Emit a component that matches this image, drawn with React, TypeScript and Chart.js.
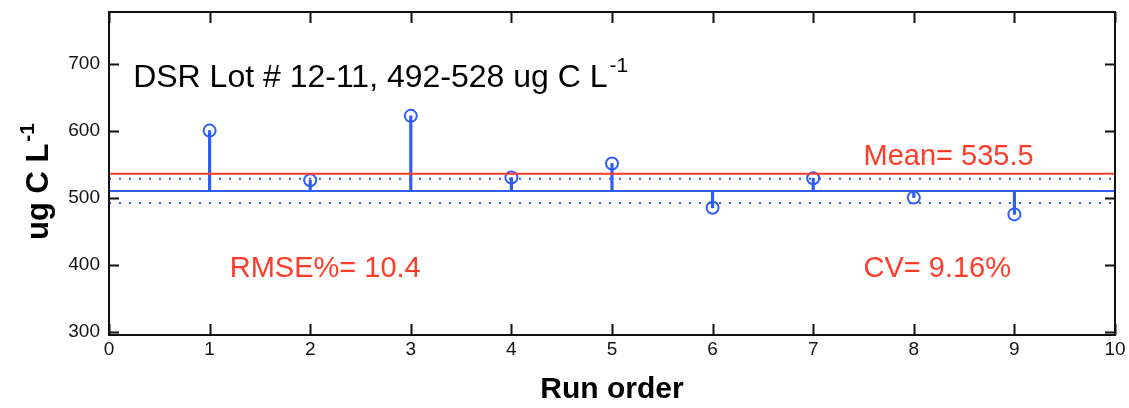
import React, { useEffect, useRef } from "react";
import { Chart, registerables } from "chart.js";

Chart.register(...registerables);

// ---- data ----
const RUN_ORDER = [1, 2, 3, 4, 5, 6, 7, 8, 9];
const CONCENTRATION = [600, 526, 622, 530, 551, 485, 529, 500, 475];
const TARGET = 510;
const LOWER_LIMIT = 492;
const UPPER_LIMIT = 528;
const MEAN = 535.5;
const X_RANGE = [0, 10];
const Y_RANGE = [295, 777];
const X_TICKS = [0, 1, 2, 3, 4, 5, 6, 7, 8, 9, 10];
const Y_TICKS = [300, 400, 500, 600, 700];

const TITLE_MAIN = "DSR Lot # 12-11, 492-528 ug C L";
const TITLE_SUP = "-1";
const Y_LABEL_MAIN = "ug C L";
const Y_LABEL_SUP = "-1";
const X_LABEL = "Run order";
const NOTE_TEXTS = ["Mean= 535.5", "RMSE%= 10.4", "CV= 9.16%"];
// text anchors in data coordinates (like MATLAB text(x, y, ...))
const NOTE_X = [7.5, 1.2, 7.5];
const NOTE_Y = [548.6, 381.6, 381.6];
const TITLE_AT = [0.24, 664.5];

const FONT = "'Liberation Sans', Arial, Helvetica, sans-serif";
const RED = "#ff3c28";
const BLUE = "#2f5cff";
const INK = "#111111";

const overlayPlugin = {
  id: "matlabOverlay",
  afterDraw(chart: any) {
    const { ctx, chartArea } = chart;
    const xs = chart.scales.x;
    const ys = chart.scales.y;
    const { left, right, top, bottom } = chartArea;
    ctx.save();
    // box
    ctx.strokeStyle = INK;
    ctx.lineWidth = 2;
    ctx.strokeRect(left, top, right - left, bottom - top);
    // inward ticks
    ctx.beginPath();
    X_TICKS.forEach((v) => {
      const px = Math.round(xs.getPixelForValue(v)) + 0.5;
      ctx.moveTo(px, bottom);
      ctx.lineTo(px, bottom - 11);
      ctx.moveTo(px, top);
      ctx.lineTo(px, top + 11);
    });
    Y_TICKS.forEach((v) => {
      const py = Math.round(ys.getPixelForValue(v)) + 0.5;
      ctx.moveTo(left, py);
      ctx.lineTo(left + 10, py);
      ctx.moveTo(right, py);
      ctx.lineTo(right - 10, py);
    });
    ctx.stroke();

    // title inside axes
    ctx.fillStyle = "#000";
    ctx.textAlign = "left";
    ctx.textBaseline = "alphabetic";
    ctx.font = `32px ${FONT}`;
    const tx = xs.getPixelForValue(TITLE_AT[0]);
    const ty = ys.getPixelForValue(TITLE_AT[1]);
    ctx.fillText(TITLE_MAIN, tx, ty);
    const tw = ctx.measureText(TITLE_MAIN).width;
    ctx.font = `21px ${FONT}`;
    ctx.fillText(TITLE_SUP, tx + tw + 2, ty - 15);

    // notes
    ctx.fillStyle = RED;
    ctx.font = `29px ${FONT}`;
    NOTE_TEXTS.forEach((t, i) => {
      ctx.fillText(t, xs.getPixelForValue(NOTE_X[i]), ys.getPixelForValue(NOTE_Y[i]));
    });

    // y label (rotated with superscript)
    ctx.fillStyle = "#000";
    ctx.font = `bold 31px ${FONT}`;
    const mw = ctx.measureText(Y_LABEL_MAIN).width;
    ctx.font = `bold 21px ${FONT}`;
    const sw = ctx.measureText(Y_LABEL_SUP).width;
    const total = mw + 2 + sw;
    const cy = (top + bottom) / 2 + 8;
    ctx.translate(left - 61, cy + total / 2);
    ctx.rotate(-Math.PI / 2);
    ctx.font = `bold 31px ${FONT}`;
    ctx.fillText(Y_LABEL_MAIN, 0, 0);
    ctx.font = `bold 21px ${FONT}`;
    ctx.fillText(Y_LABEL_SUP, mw + 2, -14);
    ctx.restore();
  },
};

export default function App() {
  const ref = useRef<HTMLCanvasElement | null>(null);
  useEffect(() => {
    document.body.style.margin = "0";
    const canvas = ref.current;
    if (!canvas) return;
    const hline = (y: number) => [
      { x: X_RANGE[0], y },
      { x: X_RANGE[1], y },
    ];
    const chart = new Chart(canvas, {
      type: "line",
      data: {
        datasets: [
          {
            type: "line",
            data: hline(MEAN),
            borderColor: RED,
            borderWidth: 2,
            pointRadius: 0,
          },
          {
            type: "line",
            data: hline(UPPER_LIMIT),
            borderColor: BLUE,
            borderWidth: 2,
            borderDash: [2, 8],
            pointRadius: 0,
          },
          {
            type: "line",
            data: hline(LOWER_LIMIT),
            borderColor: BLUE,
            borderWidth: 2,
            borderDash: [2, 8],
            pointRadius: 0,
          },
          {
            type: "line",
            data: hline(TARGET),
            borderColor: BLUE,
            borderWidth: 2,
            pointRadius: 0,
          },
          {
            type: "line",
            data: RUN_ORDER.map((x, i) => ({ x, y: CONCENTRATION[i] })),
            showLine: false,
            pointStyle: "circle",
            pointRadius: 6,
            pointBorderWidth: 2,
            pointBorderColor: BLUE,
            pointBackgroundColor: "rgba(0,0,0,0)",
          },
          {
            type: "bar",
            data: RUN_ORDER.map((x, i) => ({ x, y: [TARGET, CONCENTRATION[i]] })) as any,
            backgroundColor: BLUE,
            barThickness: 2.5,
            grouped: false,
          } as any,
        ],
      },
      options: {
        animation: false,
        responsive: false,
        layout: { padding: { left: 0, right: 14, top: 12, bottom: 0 } },
        plugins: { legend: { display: false }, tooltip: { enabled: false } },
        scales: {
          x: {
            type: "linear",
            min: X_RANGE[0],
            max: X_RANGE[1],
            offset: false,
            grid: { display: false, drawTicks: false },
            border: { display: false },
            afterBuildTicks: (s: any) => {
              s.ticks = X_TICKS.map((v) => ({ value: v }));
            },
            afterFit: (s: any) => {
              s.height = 73;
              s.paddingLeft = 0;
              s.paddingRight = 0;
            },
            ticks: {
              color: INK,
              font: { family: FONT, size: 19 },
              padding: 3,
              maxRotation: 0,
              autoSkip: false,
            },
            title: {
              display: true,
              text: X_LABEL,
              color: "#000",
              font: { family: FONT, size: 30, weight: "bold" },
              padding: { top: 0, bottom: 0 },
            },
          },
          y: {
            type: "linear",
            min: Y_RANGE[0],
            max: Y_RANGE[1],
            grid: { display: false, drawTicks: false },
            border: { display: false },
            afterBuildTicks: (s: any) => {
              s.ticks = Y_TICKS.map((v) => ({ value: v }));
            },
            afterFit: (s: any) => {
              s.width = 109;
              s.paddingTop = 0;
              s.paddingBottom = 0;
            },
            ticks: {
              color: INK,
              font: { family: FONT, size: 19 },
              padding: 9,
            },
          },
        },
      },
      plugins: [overlayPlugin],
    });
    return () => chart.destroy();
  }, []);
  return (
    <div style={{ width: 1129, height: 408 }}>
      <canvas ref={ref} width={1129} height={408} />
    </div>
  );
}
